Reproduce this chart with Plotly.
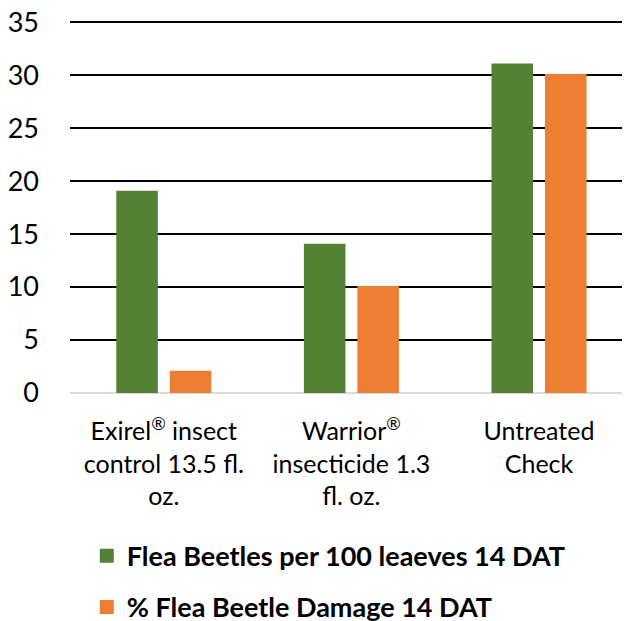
import plotly.graph_objects as go

categories = ["Exirel<sup>®</sup> insect<br>control 13.5 fl.<br>oz.", "Warrior<sup>®</sup><br>insecticide 1.3<br>fl. oz.", "Untreated<br>Check"]
beetles = [19, 14, 31]
damage = [2, 10, 30]
series_names = ["Flea Beetles per 100 leaeves 14 DAT", "% Flea Beetle Damage 14 DAT"]
tick_vals = [0, 5, 10, 15, 20, 25, 30, 35]

FONT = "Lato"
GREEN = "#548235"
ORANGE = "#ED7D31"

fig = go.Figure()
fig.add_trace(go.Bar(x=categories, y=beetles, name=series_names[0],
                     marker=dict(color=GREEN, line=dict(color=GREEN, width=2)),
                     legendgroup="a"))
fig.add_trace(go.Bar(x=categories, y=damage, name=series_names[1],
                     marker=dict(color=ORANGE, line=dict(color=ORANGE, width=2)),
                     legendgroup="b"))

# the page body has an 8px default margin, so the figure is laid out 8px up/left
fig.update_layout(
    template="none",
    width=622, height=613,
    margin=dict(l=62, r=0, t=12, b=228, autoexpand=False),
    paper_bgcolor="white", plot_bgcolor="white",
    barmode="group", bargap=0.43, bargroupgap=0.26,
    font=dict(family=FONT, size=25, color="#000000"),
    showlegend=True,
    legend=dict(
        orientation="v", x=0.03, xanchor="left",
        yref="container", y=0.1455, yanchor="top",
        font=dict(family=FONT, size=27, color="#000000", weight="bold"),
        tracegroupgap=13, bgcolor="rgba(0,0,0,0)", borderwidth=0,
        traceorder="grouped",
    ),
    xaxis=dict(range=[-0.5, 2.485], showgrid=False, showline=False, ticks="",
               automargin=False, ticklabelstandoff=21,
               tickfont=dict(family=FONT, size=25, color="#000000"),
               tickangle=0, fixedrange=True),
    yaxis=dict(range=[0, 35.2], tickvals=tick_vals, showgrid=True,
               gridcolor="#000000", gridwidth=2,
               zeroline=True, zerolinecolor="#D9D9D9", zerolinewidth=2,
               showline=False, ticks="", ticklabelstandoff=30, automargin=False,
               ticklabeloverflow="allow",
               tickfont=dict(family=FONT, size=27, color="#000000")),
)

fig.write_html("out.html")
